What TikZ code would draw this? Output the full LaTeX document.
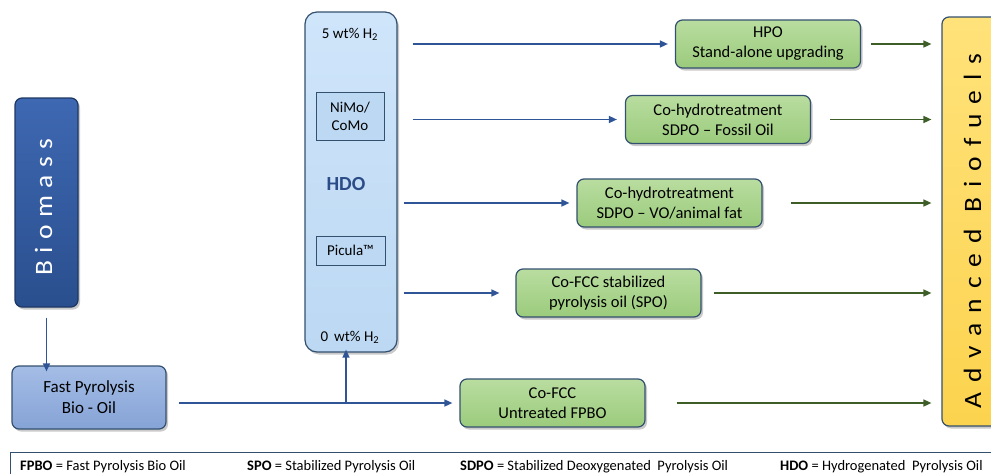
\documentclass[tikz,border=0pt]{standalone}
\usepackage{fontspec}
\setmainfont{Carlito}
\usetikzlibrary{arrows.meta,shadows}
\definecolor{dkblue}{HTML}{2F5597}
\definecolor{edgeblue}{HTML}{34506F}
\definecolor{bioA}{HTML}{3E68B2}
\definecolor{bioB}{HTML}{2A4F8E}
\definecolor{fpA}{HTML}{A4BDE6}
\definecolor{fpB}{HTML}{86A3D6}
\definecolor{hdoA}{HTML}{CFE5FA}
\definecolor{hdoB}{HTML}{BCD8F3}
\definecolor{grA}{HTML}{B9DDA0}
\definecolor{grB}{HTML}{9BCB7C}
\definecolor{yeA}{HTML}{FFE27A}
\definecolor{yeB}{HTML}{FCD34E}
\definecolor{dkgreen}{HTML}{3D5E27}
\definecolor{hdotext}{HTML}{2B4C86}
\begin{document}
\begin{tikzpicture}[x=1pt,y=-1pt,
  txt/.style={font=\fontsize{16.5}{20}\selectfont,align=center,text=black},
  shd/.style={drop shadow={shadow xshift=2pt,shadow yshift=-2.5pt,opacity=0.35,fill=black!60}},
  boxbase/.style={rounded corners=7pt,draw=edgeblue,line width=1.2pt,shd,inner sep=0pt},
  greenbox/.style={boxbase,top color=grA,bottom color=grB,minimum width=185pt,minimum height=48pt,txt},
  catbox/.style={draw=edgeblue,line width=1pt,fill=hdoB,align=center,inner sep=0pt},
  coltxt/.style={font=\fontsize{15}{18}\selectfont,align=center},
  bluearr/.style={draw=dkblue,line width=1.5pt,-{Triangle[length=8pt,width=7pt]}},
  greenarr/.style={draw=dkgreen,line width=1.5pt,-{Triangle[length=8pt,width=7pt]}},
  legtxt/.style={font=\fontsize{14.5}{16}\selectfont,anchor=west,inner sep=0pt}]
\useasboundingbox (0,0) rectangle (991,474);
% left column
\node[boxbase,draw=bioB!70!black,top color=bioA,bottom color=bioB,minimum width=63pt,minimum height=209pt] (bio) at (46.5,202.5) {};
\node[rotate=90,anchor=base,text=white,font=\fontsize{25}{28}\selectfont\addfontfeatures{FakeStretch=1.1,LetterSpace=30}] (biot) at (52,207) {Biomass};
\node[boxbase,top color=fpA,bottom color=fpB,minimum width=154pt,minimum height=63pt,txt,font=\fontsize{17}{21}\selectfont] (fpbo) at (89,397.5) {Fast Pyrolysis\\Bio - Oil};
% HDO column
\node[boxbase,rounded corners=12pt,top color=hdoA,bottom color=hdoB,minimum width=92pt,minimum height=340pt] (hdo) at (351,182) {};
\node[coltxt] (h5) at (350,34) {5 wt\% H\textsubscript{2}};
\node[catbox,coltxt,minimum width=68pt,minimum height=48pt] (nimo) at (350,116) {NiMo/\\CoMo};
\node[font=\fontsize{20}{22}\selectfont\bfseries,text=hdotext] (hdol) at (346,184) {HDO};
\node[catbox,coltxt,minimum width=69pt,minimum height=29pt] (pic) at (350.5,250.5) {Picula™};
\node[coltxt] (h0) at (350,337) {0\, wt\% H\textsubscript{2}};
% green boxes
\node[greenbox] (hpo) at (768,44) {HPO\\Stand-alone upgrading};
\node[greenbox] (fos) at (718,119.5) {Co-hydrotreatment\\SDPO -- Fossil Oil};
\node[greenbox] (vo) at (669.5,203) {Co-hydrotreatment\\SDPO -- VO/animal fat};
\node[greenbox] (spo) at (608.5,293) {Co-FCC stabilized\\pyrolysis oil (SPO)};
\node[greenbox] (fcc) at (552.5,403) {Co-FCC\\Untreated FPBO};
% advanced biofuels
\node[boxbase,top color=yeA,bottom color=yeB,minimum width=68pt,minimum height=409pt] (adv) at (976,221.5) {};
\node[rotate=90,anchor=base,font=\fontsize{25}{28}\selectfont\addfontfeatures{FakeStretch=1.1,LetterSpace=40}] (advt) at (981,231) {Advanced Biofuels};
% arrows
\draw[bluearr] (bio.south) ++(0,10) -- ([yshift=-6]bio.south |- fpbo.north);
\draw[bluearr] ([xshift=12]fpbo.east |- fcc.west) -- ([xshift=-7]fcc.west);
\coordinate (j) at ([xshift=-5]hdo.south |- fcc.west);
\draw[bluearr] (j) -- ([yshift=3]j |- hdo.south);
\draw[bluearr] ([xshift=15]hdo.east |- hpo.west) -- ([xshift=-7]hpo.west);
\draw[bluearr] ([xshift=15]hdo.east |- fos.west) -- ([xshift=-8]fos.west);
\draw[bluearr] ([xshift=6]hdo.east |- vo.west) -- ([xshift=-7]vo.west);
\draw[bluearr] ([xshift=6]hdo.east |- spo.west) -- ([xshift=-16]spo.west);
\draw[greenarr] ([xshift=10]hpo.east) -- ([xshift=-10]adv.west |- hpo.east);
\draw[greenarr] ([xshift=19]fos.east) -- ([xshift=-10]adv.west |- fos.east);
\draw[greenarr] ([xshift=28]vo.east) -- ([xshift=-10]adv.west |- vo.east);
\draw[greenarr] ([xshift=12]spo.east) -- ([xshift=-10]adv.west |- spo.east);
\draw[greenarr] ([xshift=31]fcc.east) -- ([xshift=-10]adv.west |- fcc.east);
% legend
\draw[draw=edgeblue,line width=1pt] (10,452) rectangle (1000,490);
\node[legtxt] (l1) at (20,467) {\textbf{FPBO} = Fast Pyrolysis Bio Oil};
\node[legtxt] (l2) at (247,467) {\textbf{SPO} = Stabilized Pyrolysis Oil};
\node[legtxt] (l3) at (460,467) {\textbf{SDPO} = Stabilized Deoxygenated\ \ Pyrolysis Oil};
\node[legtxt] (l4) at (780,467) {\textbf{HDO} = Hydrogenated\ \ Pyrolysis Oil};
\end{tikzpicture}
\end{document}
